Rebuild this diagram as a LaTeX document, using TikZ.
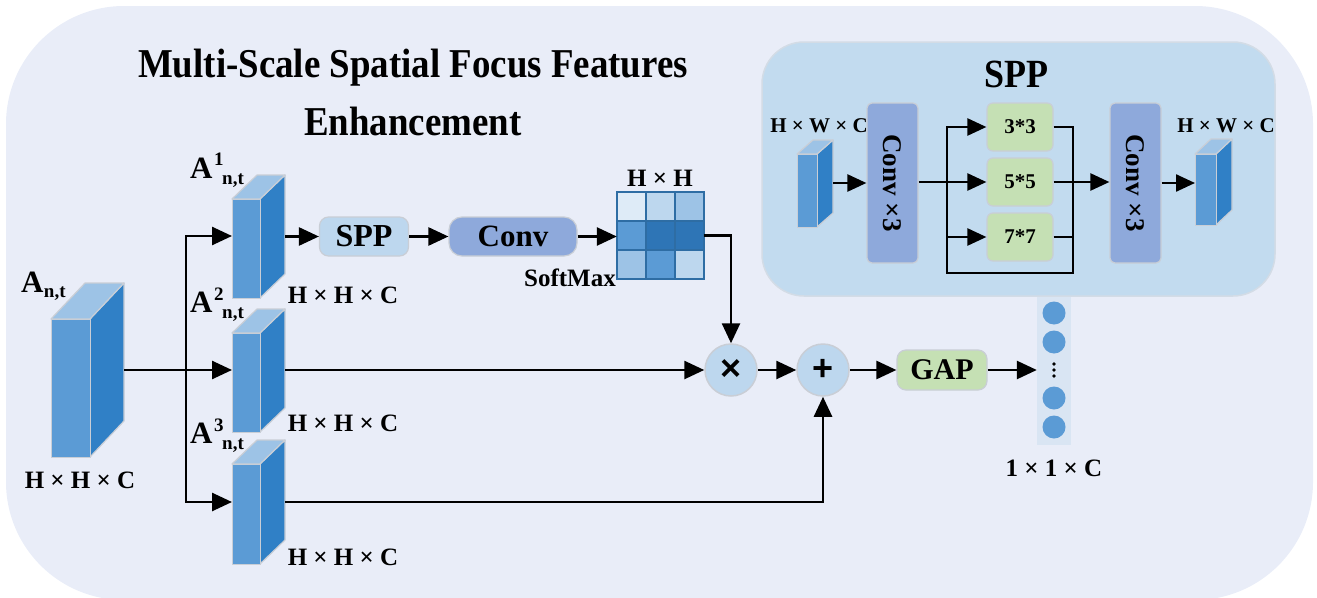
\documentclass[tikz,border=0pt]{standalone}
\usepackage{fontspec}
\setmainfont{Liberation Serif}
\setsansfont{Liberation Sans}
\newfontfamily\condfont{Liberation Serif}[FakeStretch=0.9]
\usetikzlibrary{arrows.meta,calc}

\definecolor{bgc}{HTML}{E9EDF8}
\definecolor{panelc}{HTML}{C2DBEF}
\definecolor{panelline}{HTML}{D3DCE6}
\definecolor{frontc}{HTML}{5B9BD5}
\definecolor{sidec}{HTML}{3080C6}
\definecolor{topc}{HTML}{9DC3E6}
\definecolor{edgec}{HTML}{C9CED6}
\definecolor{sppc}{HTML}{BDD7EE}
\definecolor{convc}{HTML}{8EA9DB}
\definecolor{greenc}{HTML}{C5E0B4}
\definecolor{vecc}{HTML}{D9E5F3}
\definecolor{gridc}{HTML}{2E6DA4}
\definecolor{ma}{HTML}{DEEBF7}
\definecolor{mb}{HTML}{BDD7EE}
\definecolor{mc}{HTML}{9DC3E6}
\definecolor{md}{HTML}{5B9BD5}
\definecolor{me}{HTML}{2E75B6}

\newcommand\fs[1]{\fontsize{#1}{#1}\selectfont\bfseries}
\newcommand\cfs[1]{\condfont\fontsize{#1}{#1}\selectfont\bfseries}

% cuboid: name, x, y (front top-left), width, height, depth dx, depth dy
\newcommand\cuboid[7]{%
  \path[fill=sidec,draw=edgec,line width=1.2pt,line join=round]
    (#2+#4,#3) -- ++(#6,-#7) -- ++(0,#5) -- (#2+#4,#3+#5) -- cycle;
  \path[fill=topc,draw=edgec,line width=1.2pt,line join=round]
    (#2,#3) -- ++(#6,-#7) -- ++(#4,0) -- (#2+#4,#3) -- cycle;
  \node[draw=edgec,fill=frontc,line width=1.2pt,inner sep=0pt,
        minimum width=#4,minimum height=#5,anchor=north west] (#1) at (#2,#3) {};
  \coordinate (#1-back) at (#2+#4+#6,#3+#5/2-#7);
}

\tikzset{
  arr/.style={line width=2.6pt,-{Triangle[length=20pt,width=18pt]}},
  ln/.style={line width=2.6pt},
  sarr/.style={line width=2.4pt,-{Triangle[length=19pt,width=17pt]}},
  sln/.style={line width=2.4pt},
  lbl/.style={inner sep=0pt,font=\fs{25}},
  slbl/.style={inner sep=0pt,font=\fs{21}},
  rbox/.style={draw=edgec,line width=1.2pt,inner sep=0pt,rounded corners=9pt},
  opc/.style={circle,draw=edgec,line width=1.5pt,fill=sppc,minimum size=52pt,inner sep=0pt,
              font=\sffamily\bfseries\fontsize{36}{36}\selectfont},
  supl/.style={anchor=base west,inner sep=0pt,font=\fs{19}},
  subl/.style={anchor=base west,inner sep=0pt,font=\fs{19}},
  bigA/.style={anchor=base west,inner sep=0pt,font=\fs{31}},
}

\begin{document}
\begin{tikzpicture}[x=1pt,y=-1pt]
\useasboundingbox (0,0) rectangle (1317,597);

% background panel
\fill[bgc,rounded corners=118pt] (6,6) rectangle (1313,600);

% title
\node[inner sep=0pt,font=\cfs{41}] (title1) at (413,68) {Multi-Scale Spatial Focus Features};
\node[inner sep=0pt,font=\cfs{41}] (title2) at (413,121) {Enhancement};

% row levels
\coordinate (r1) at (0,236);
\coordinate (r2) at (0,370);
\coordinate (r3) at (0,502);
\coordinate (split) at (186,370);

% input feature
\cuboid{in}{51}{319}{39}{138}{34}{36}
\node[bigA] (inA) at (21,292) {A};
\node[subl] at (inA.base east) [yshift=-5pt] {n,t};
\node[lbl] (inlab) at (80,480) {H × H × C};

% three branches
\cuboid{a1}{232}{199}{28}{99}{25}{24}
\cuboid{a2}{232}{333}{28}{99}{25}{24}
\cuboid{a3}{232}{464}{28}{100}{25}{24}

\node[bigA] at (190,178) {A};
\node[supl] at (214,165) {1};
\node[subl] at (222,184) {n,t};
\node[bigA] at (190,312) {A};
\node[supl] at (214,300) {2};
\node[subl] at (222,318) {n,t};
\node[bigA] at (190,443) {A};
\node[supl] at (214,431) {3};
\node[subl] at (222,449) {n,t};

\node[lbl] at (343,295) {H × H × C};
\node[lbl] at (343,423) {H × H × C};
\node[lbl] at (343,557) {H × H × C};

% attention path
\node[rbox,fill=sppc,minimum width=89,minimum height=39,font=\fs{32}] (spp) at (364,236.5) {SPP};
\node[rbox,fill=convc,rounded corners=13pt,minimum width=128,minimum height=39,font=\fs{31}] (conv) at (513,236.5) {Conv};
\node[inner sep=0pt,minimum size=87] (mat) at (660.5,235.5) {};
\foreach \c [count=\i from 0] in {ma,mb,mc,md,me,me,mc,md,mb}{
  \pgfmathtruncatemacro\cx{mod(\i,3)}
  \pgfmathtruncatemacro\cy{\i/3}
  \fill[\c] (617+\cx*29,192+\cy*29) rectangle ++(29,29);
}
\foreach \k in {0,1,2,3}{
  \draw[gridc,line width=2pt] (617+\k*29,191) -- (617+\k*29,280);
  \draw[gridc,line width=2pt] (616,192+\k*29) -- (705,192+\k*29);
}
\node[lbl] at (660,178) {H × H};
\node[anchor=base east,inner sep=0pt,font=\fs{25}] at (616,286) {SoftMax};

% operators and output
\node[opc] (times) at (731,370) {×};
\node[opc] (plus) at (823,370) {+};
\node[rbox,fill=greenc,minimum width=90,minimum height=40,font=\fs{30}] (gap) at (942,370) {GAP};
\node[fill=vecc,inner sep=0pt,minimum width=34,minimum height=150] (vec) at (1054,370) {};
\foreach \yy in {313,342,398,427}{
  \fill[frontc] (1054,\yy) circle[radius=11.5];
}
\foreach \yy in {364,370,376}{
  \fill[black] (1054,\yy) circle[radius=1.8];
}
\node[lbl] at (1054,468) {1 × 1 × C};

% connectors
\draw[ln] (in-back |- split) -- (split);
\draw[arr] (split) -- (a2.west |- r2);
\draw[arr] (split) |- (a1.west |- r1);
\draw[arr] (split) |- (a3.west |- r3);
\draw[arr] (a1-back |- spp.west) -- (spp.west);
\draw[arr] (spp) -- (conv);
\draw[arr] (conv) -- (mat.west |- conv.east);
\draw[arr] (mat.east) -| (times.north);
\draw[arr] (a2-back |- times.west) -- (times.west);
\draw[arr] (times) -- (plus);
\draw[arr] (a3-back |- r3) -| (plus.south);
\draw[arr] (plus) -- (gap);
\draw[arr] (gap) -- (vec);

% SPP detail panel
\draw[fill=panelc,draw=panelline,line width=1.5pt,rounded corners=42pt] (762,42) rectangle (1275,296);
\node[inner sep=0pt,font=\cfs{40}] at (1016,74) {SPP};
\cuboid{sin}{797}{154}{20}{73}{16}{14}
\cuboid{sout}{1195}{154}{21}{71}{16}{15}
\node[slbl] at (819,126) {H × W × C};
\node[slbl] at (1226,126) {H × W × C};

\node[rbox,fill=convc,rounded corners=5pt,minimum width=51,minimum height=160] (c1) at (892.5,183) {};
\node[rbox,fill=convc,rounded corners=5pt,minimum width=51,minimum height=160] (c2) at (1135.5,183) {};
\node[rotate=-90,inner sep=0pt,font=\fs{27}] at (c1) {Conv ×3};
\node[rotate=-90,inner sep=0pt,font=\fs{27}] at (c2) {Conv ×3};

\node[rbox,fill=greenc,rounded corners=6pt,minimum width=66,minimum height=48,font=\fs{21}] (k3) at (1020,127) {3*3};
\node[rbox,fill=greenc,rounded corners=6pt,minimum width=66,minimum height=48,font=\fs{21}] (k5) at (1020,182) {5*5};
\node[rbox,fill=greenc,rounded corners=6pt,minimum width=66,minimum height=48,font=\fs{21}] (k7) at (1020,237) {7*7};

\coordinate (sb) at (947,182);
\coordinate (sm) at (1073,182);
\coordinate (bot) at (0,273);

\draw[sarr] (sin-back |- c1.west) -- (c1.west);
\draw[sln] (c1.east |- sb) -- (sb);
\draw[sarr] (sb) -- (k5.west);
\draw[sarr] (sb) |- (k3.west);
\draw[sarr] (sb) |- (k7.west);
\draw[sln] (sb) |- (sb |- bot) -| (sm);
\draw[sln] (k3.east) -| (sm);
\draw[sln] (k7.east) -| (sm);
\draw[sarr] (k5.east) -- (c2.west |- k5.east);
\draw[sarr] (c2.east) -- (sout.west |- c2.east);
\end{tikzpicture}
\end{document}
